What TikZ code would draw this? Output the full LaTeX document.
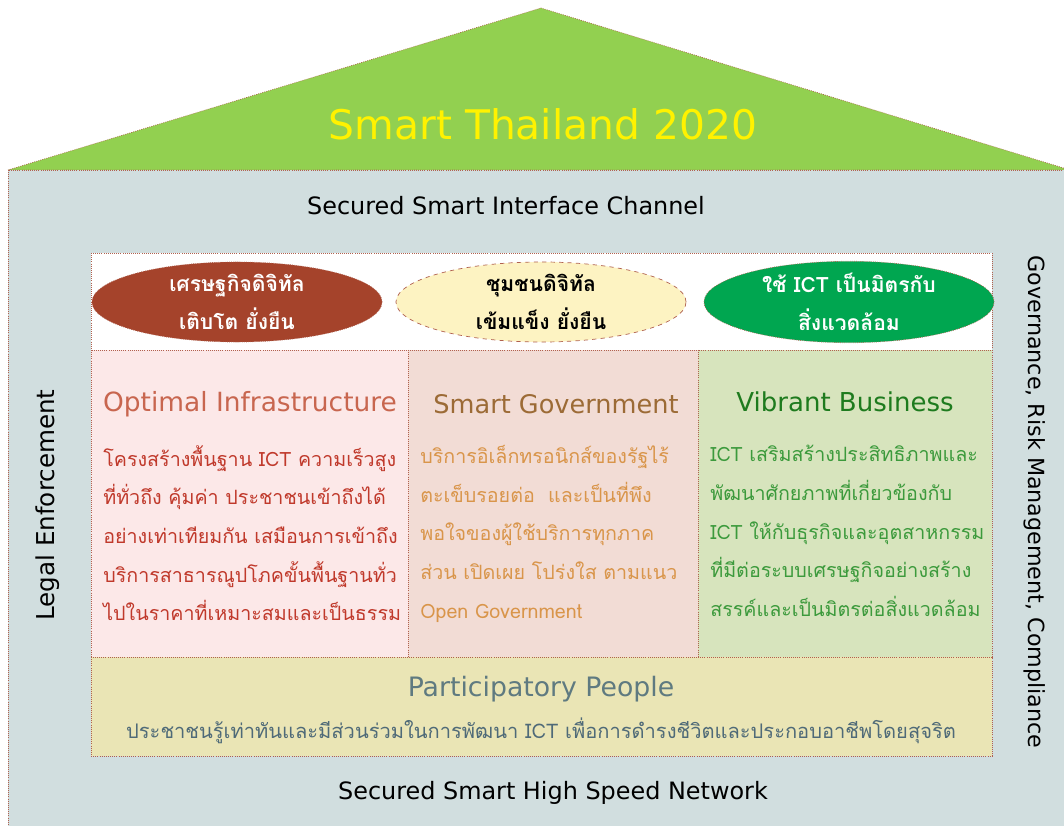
\documentclass[tikz,border=0pt]{standalone}
\usepackage{fontspec}
\newfontfamily\thaifont[Script=Thai]{Loma}
\newfontfamily\latinfont{DejaVu Sans}
\usetikzlibrary{shapes.geometric}

\definecolor{roofgreen}{HTML}{92D050}
\definecolor{wall}{HTML}{D1DEDF}
\definecolor{rim}{HTML}{B0604E}
\definecolor{econfill}{HTML}{A5432B}
\definecolor{commfill}{HTML}{FDF3C2}
\definecolor{envfill}{HTML}{00A650}
\definecolor{infrafill}{HTML}{FCE8E8}
\definecolor{infratitle}{HTML}{C8664F}
\definecolor{infratext}{HTML}{C0392B}
\definecolor{govfill}{HTML}{F2DCD5}
\definecolor{govtitle}{HTML}{9C6B36}
\definecolor{govtext}{HTML}{D9954A}
\definecolor{bizfill}{HTML}{D7E4BD}
\definecolor{biztitle}{HTML}{1E7B1E}
\definecolor{biztext}{HTML}{3C9A3C}
\definecolor{peoplefill}{HTML}{EAE5B5}
\definecolor{peopletitle}{HTML}{5F7A80}
\definecolor{peopletext}{HTML}{4F6A78}

\begin{document}
\begin{tikzpicture}[x=0.025cm,y=-0.025cm,font=\thaifont,
  rimline/.style={draw=rim,densely dotted,line width=0.5pt},
  goal/.style={ellipse,rimline,minimum width=7.25cm,minimum height=2cm,inner sep=0pt,
    align=center,font=\thaifont\bfseries\fontsize{15}{27}\selectfont},
  pillar/.style={font=\latinfont\fontsize{18.8}{24}\selectfont},
  pillartext/.style={anchor=north west,align=left,inner sep=0pt,
    font=\thaifont\fontsize{14}{27.5}\selectfont},
  plain/.style={font=\latinfont\fontsize{17}{20}\selectfont}]
\useasboundingbox (0,0) rectangle (1064,826);
% roof and walls
\filldraw[rimline,fill=roofgreen] (8,170) -- (541,8) -- (1070,170) -- cycle;
\filldraw[rimline,fill=wall] (8,170) rectangle (1070,830);
\node[text=yellow,font=\latinfont\fontsize{29}{34}\selectfont] (title) at (543,124) {Smart Thailand 2020};
\node[plain] (channel) at (506,206) {Secured Smart Interface Channel};
\node[plain] (network) at (553,793) {Secured Smart High Speed Network};
\node[plain,font=\latinfont\fontsize{17.5}{20}\selectfont,rotate=90] (legal) at (48,505) {Legal Enforcement};
\node[plain,font=\latinfont\fontsize{15.8}{20}\selectfont,rotate=-90] (governance) at (1035,502) {Governance, Risk Management, Compliance};
% goals
\filldraw[rimline,fill=white] (91,253) rectangle (992,350);
\node[goal,fill=econfill,text=white] (econ) at (237,302) {เศรษฐกิจดิจิทัล\\เติบโต ยั่งยืน};
\node[goal,fill=commfill,text=black,dashed] (comm) at (541,302) {ชุมชนดิจิทัล\\เข้มแข็ง ยั่งยืน};
\node[goal,fill=envfill,text=white] (env) at (849,302) {ใช้ ICT เป็นมิตรกับ\\สิ่งแวดล้อม};
% pillars
\filldraw[rimline,fill=infrafill] (91,350) rectangle (408,657);
\filldraw[rimline,fill=govfill] (408,350) rectangle (698,657);
\filldraw[rimline,fill=bizfill] (698,350) rectangle (992,657);
\node[pillar,text=infratitle] (infra) at (250,404) {Optimal Infrastructure};
\node[pillar,font=\latinfont\fontsize{18.2}{24}\selectfont,text=govtitle] (gov) at (556,404) {Smart Government};
\node[pillar,font=\latinfont\fontsize{18.5}{24}\selectfont,text=biztitle] (biz) at (845,402) {Vibrant Business};
\node[pillartext,text=infratext] (infratxt) at (103,445) {โครงสร้างพื้นฐาน ICT ความเร็วสูง\\ที่ทั่วถึง คุ้มค่า ประชาชนเข้าถึงได้\\อย่างเท่าเทียมกัน เสมือนการเข้าถึง\\บริการสาธารณูปโภคขั้นพื้นฐานทั่ว\\ไปในราคาที่เหมาะสมและเป็นธรรม};
\node[pillartext,text=govtext] (govtxt) at (420,445) {บริการอิเล็กทรอนิกส์ของรัฐไร้\\ตะเข็บรอยต่อ~~และเป็นที่พึง\\พอใจของผู้ใช้บริการทุกภาค\\ส่วน เปิดเผย โปร่งใส ตามแนว\\Open Government};
\node[pillartext,text=biztext] (biztxt) at (710,445) {ICT เสริมสร้างประสิทธิภาพและ\\พัฒนาศักยภาพที่เกี่ยวข้องกับ\\ICT ให้กับธุรกิจและอุตสาหกรรม\\ที่มีต่อระบบเศรษฐกิจอย่างสร้าง\\สรรค์และเป็นมิตรต่อสิ่งแวดล้อม};
% base
\filldraw[rimline,fill=peoplefill] (91,657) rectangle (992,756);
\node[pillar,font=\latinfont\fontsize{19}{24}\selectfont,text=peopletitle] (people) at (541,689) {Participatory People};
\node[text=peopletext,font=\thaifont\fontsize{14.3}{18}\selectfont] (peopletxt) at (541,731) {ประชาชนรู้เท่าทันและมีส่วนร่วมในการพัฒนา ICT เพื่อการดำรงชีวิตและประกอบอาชีพโดยสุจริต};
\end{tikzpicture}
\end{document}
